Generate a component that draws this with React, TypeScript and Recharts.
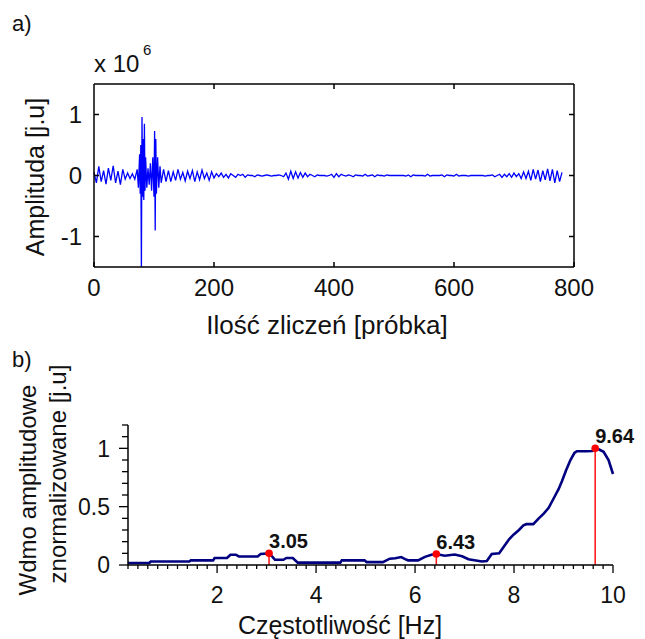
import {
  ComposedChart,
  Line,
  LineChart,
  ReferenceLine,
  Scatter,
  XAxis,
  YAxis,
} from "recharts";

// a) time signal, amplitude in units of 1e6
const SAMPLE_STEP = 4;
const leadAmp = [
  0.05, -0.12, 0.15, -0.1, 0.08, -0.14, 0.12, -0.08, 0.16, -0.12, 0.07, -0.15,
  0.1, -0.06, 0.04, -0.05, 0.03, -0.06,
];
const burstSample = [
  72, 74, 76, 77, 78, 79, 80, 81, 82, 83, 84, 85, 86, 88, 90, 92, 94, 96, 98,
  100, 101, 102, 103, 104, 106, 108, 110, 112, 116, 120,
];
const burstAmp = [
  0.1, -0.2, 0.35, -0.3, 0.5, -1.6, 0.96, -0.35, 0.6, -0.4, 0.85, -0.25, 0.3,
  -0.2, 0.12, -0.15, 0.2, -0.25, 0.3, -0.35, 0.73, -0.9, 0.6, -0.3, 0.3, -0.2,
  0.15, -0.12, 0.1, -0.1,
];
const tailStart = 124;
const tailAmp = [
  0.08, -0.1, 0.06, -0.08, 0.1, -0.06, 0.05, -0.09, 0.07, -0.05,
  0.08, -0.1, 0.06, -0.07, 0.09, -0.05, 0.04, -0.08, 0.06, -0.04,
  0.03, -0.02, 0.04, -0.03, 0.02, -0.04, 0.03, 0, -0.03, 0.02,
  0, 0.02, -0.03, 0.01, 0, 0, -0.02, 0.01, 0, -0.01,
  0, 0.01, 0, -0.01, 0, 0, 0.01, 0, -0.02, 0.04,
  -0.06, 0.07, -0.05, 0.06, -0.04, 0.05, -0.03, 0.04, -0.02, 0.02,
  0, -0.02, 0.01, 0, 0, 0, -0.01, 0, 0.02, -0.03,
  0.03, -0.02, 0.02, 0, -0.01, 0.01, 0, -0.02, 0.01, 0,
  0, -0.01, 0.02, -0.01, 0, 0.01, -0.02, 0.01, 0, 0,
  -0.01, 0.01, 0, 0, 0, 0, 0, 0, 0, -0.01,
  0.01, -0.02, 0.01, 0, 0, 0, 0, -0.01, 0.02, -0.01,
  0, 0, 0, 0, 0.01, -0.02, 0.01, 0, 0, -0.01,
  0.02, -0.01, 0, 0, 0, -0.01, 0, 0, 0, 0,
  0, 0, -0.01, 0, 0, 0.01, -0.02, 0, 0.02, -0.03,
  0.02, -0.02, 0.03, -0.03, 0.04, -0.02, 0.03, -0.05, 0.06, -0.05,
  0.07, -0.08, 0.1, -0.06, 0.09, -0.1, 0.08, -0.07, 0.11, -0.09,
  0.1, -0.12, 0.08, -0.1, 0.05,
];
const sampleTicks = [0, 200, 400, 600, 800];
const ampTicks = [-1, 0, 1];

// b) normalised spectrum
const freq = [
  0.2, 0.63, 0.66, 1.44, 1.47, 1.92, 1.95, 2.2, 2.27, 2.38, 2.44, 2.82, 2.88,
  3.05, 3.12, 3.17, 3.34, 3.4, 3.53, 3.63, 4.49, 4.52, 4.98, 5.02, 5.35, 5.49,
  5.6, 5.72, 5.8, 5.86, 6.06, 6.2, 6.33, 6.43, 6.6, 6.8, 6.95, 7.08, 7.35,
  7.45, 7.55, 7.7, 7.8, 7.9, 7.99, 8.1, 8.19, 8.25, 8.39, 8.5, 8.6, 8.7, 8.8,
  8.9, 8.97, 9.05, 9.14, 9.22, 9.27, 9.45, 9.58, 9.64, 9.72, 9.81, 9.91, 10,
];
const spectrum = [
  0.017, 0.017, 0.03, 0.03, 0.04, 0.04, 0.06, 0.06, 0.088, 0.088, 0.073, 0.073,
  0.095, 0.1, 0.07, 0.045, 0.045, 0.06, 0.06, 0.02, 0.02, 0.04, 0.04, 0.025,
  0.025, 0.054, 0.058, 0.068, 0.05, 0.04, 0.04, 0.07, 0.088, 0.094, 0.08, 0.09,
  0.075, 0.05, 0.03, 0.035, 0.095, 0.1, 0.16, 0.22, 0.26, 0.3, 0.34, 0.35,
  0.35, 0.4, 0.44, 0.49, 0.57, 0.65, 0.72, 0.81, 0.9, 0.96, 0.975, 0.975,
  0.977, 1.0, 0.99, 0.97, 0.9, 0.78,
];
const peakFreq = [3.05, 6.43, 9.64];
const peakAmp = [0.1, 0.094, 1.0];
const freqMajorTicks = [2, 4, 6, 8, 10];
const specTicks = [0, 0.1, 0.2, 0.3, 0.4, 0.5, 0.6, 0.7, 0.8, 0.9, 1, 1.1, 1.2];
const specMajorTicks = [0, 0.5, 1];

const signal = [
  ...leadAmp.map((v, i) => ({ s: i * SAMPLE_STEP, v })),
  ...burstSample.map((s, i) => ({ s, v: burstAmp[i] })),
  ...tailAmp.map((v, i) => ({ s: tailStart + i * SAMPLE_STEP, v })),
];
const spectrumData = freq.map((f, i) => ({ f, v: spectrum[i] }));
const peaks = peakFreq.map((f, i) => ({ f, v: peakAmp[i] }));

// minor ticks every 0.2 Hz along the frequency axis
const freqTicks: number[] = [];
for (let k = 1; k <= 50; k++) freqTicks.push(Math.round(k * 2) / 10);

const FONT = "'Liberation Sans', Arial, sans-serif";
const INK = "#111";

function SampleTick({ x, y, payload }: any) {
  return (
    <g>
      <line x1={x} x2={x} y1={y} y2={y - 5} stroke="#000" strokeWidth={1.5} />
      <text x={x} y={y + 29} textAnchor="middle" fontSize={24} fontFamily={FONT} fill={INK}>
        {payload.value}
      </text>
    </g>
  );
}

function TopInnerTick({ x, y }: any) {
  return <line x1={x} x2={x} y1={y} y2={y + 5} stroke="#000" strokeWidth={1.5} />;
}

function AmpTick({ x, y, payload }: any) {
  return (
    <g>
      <line x1={x} x2={x + 5} y1={y} y2={y} stroke="#000" strokeWidth={1.5} />
      <text x={x - 12} y={y} dy="0.36em" textAnchor="end" fontSize={24} fontFamily={FONT} fill={INK}>
        {payload.value}
      </text>
    </g>
  );
}

function RightInnerTick({ x, y }: any) {
  return <line x1={x} x2={x - 5} y1={y} y2={y} stroke="#000" strokeWidth={1.5} />;
}

function FreqTick({ x, y, payload }: any) {
  const major = freqMajorTicks.includes(payload.value);
  return (
    <g>
      <line x1={x} x2={x} y1={y} y2={y + (major ? 8 : 4)} stroke="#000" strokeWidth={1.3} />
      {major && (
        <text x={x} y={y + 38} textAnchor="middle" fontSize={23} fontFamily={FONT} fill={INK}>
          {payload.value}
        </text>
      )}
    </g>
  );
}

function SpecTick({ x, y, payload }: any) {
  const major = specMajorTicks.includes(payload.value);
  return (
    <g>
      <line x1={x} x2={x - (major ? 9 : 6)} y1={y} y2={y} stroke="#000" strokeWidth={1.3} />
      {major && (
        <text x={x - 18} y={y} dy="0.36em" textAnchor="end" fontSize={23} fontFamily={FONT} fill={INK}>
          {payload.value}
        </text>
      )}
    </g>
  );
}

function PeakMarker({ cx, cy, payload }: any) {
  return (
    <g>
      <circle cx={cx} cy={cy} r={3.8} fill="#ff0000" />
      <text x={cx} y={cy - 5} fontSize={20} fontWeight="bold" fontFamily={FONT} fill={INK}>
        {payload.f.toFixed(2)}
      </text>
    </g>
  );
}

export default function App() {
  return (
    <div style={{ position: "absolute", left: 0, top: 0, width: 645, height: 639, background: "#fff" }}>
      <div style={{ position: "absolute", left: 0, top: 0 }}>
        <LineChart width={645} height={340} data={signal} margin={{ top: 83, right: 70, bottom: 43, left: 64 }}>
          <XAxis
            dataKey="s"
            type="number"
            domain={[0, 800]}
            ticks={sampleTicks}
            interval={0}
            height={30}
            tickSize={0}
            tickMargin={0}
            tickLine={false}
            tick={<SampleTick />}
            axisLine={{ stroke: "#000", strokeWidth: 1.5 }}
          />
          <XAxis
            xAxisId="top"
            orientation="top"
            dataKey="s"
            type="number"
            domain={[0, 800]}
            ticks={[200, 400, 600]}
            interval={0}
            height={1}
            tickSize={0}
            tickMargin={0}
            tickLine={false}
            tick={<TopInnerTick />}
            axisLine={{ stroke: "#000", strokeWidth: 1.5 }}
          />
          <YAxis
            type="number"
            domain={[-1.5, 1.5]}
            allowDataOverflow
            ticks={ampTicks}
            interval={0}
            width={30}
            tickSize={0}
            tickMargin={0}
            tickLine={false}
            tick={<AmpTick />}
            axisLine={{ stroke: "#000", strokeWidth: 1.5 }}
          />
          <YAxis
            yAxisId="right"
            orientation="right"
            type="number"
            domain={[-1.5, 1.5]}
            allowDataOverflow
            ticks={ampTicks}
            interval={0}
            width={1}
            tickSize={0}
            tickMargin={0}
            tickLine={false}
            tick={<RightInnerTick />}
            axisLine={{ stroke: "#000", strokeWidth: 1.5 }}
          />
          <Line
            type="linear"
            dataKey="v"
            stroke="#0000ff"
            strokeWidth={1.3}
            dot={false}
            isAnimationActive={false}
          />
        </LineChart>
      </div>

      <div style={{ position: "absolute", left: 0, top: 340 }}>
        <ComposedChart width={645} height={299} margin={{ top: 85, right: 32, bottom: 44, left: 98 }}>
          <XAxis
            dataKey="f"
            type="number"
            domain={[0.2, 10]}
            ticks={freqTicks}
            interval={0}
            height={30}
            tickSize={0}
            tickMargin={0}
            tickLine={false}
            tick={<FreqTick />}
            axisLine={{ stroke: "#000", strokeWidth: 1.5 }}
          />
          <YAxis
            dataKey="v"
            type="number"
            domain={[0, 1.2]}
            ticks={specTicks}
            interval={0}
            width={30}
            tickSize={0}
            tickMargin={0}
            tickLine={false}
            tick={<SpecTick />}
            axisLine={{ stroke: "#000", strokeWidth: 1.5 }}
          />
          <Line
            data={spectrumData}
            type="linear"
            dataKey="v"
            stroke="#000080"
            strokeWidth={2.6}
            dot={false}
            isAnimationActive={false}
          />
          {peaks.map((p) => (
            <ReferenceLine
              key={p.f}
              segment={[
                { x: p.f, y: 0 },
                { x: p.f, y: p.v },
              ]}
              stroke="#ff2020"
              strokeWidth={1.6}
            />
          ))}
          <Scatter data={peaks} dataKey="v" shape={<PeakMarker />} isAnimationActive={false} />
        </ComposedChart>
      </div>

      <svg width={645} height={639} style={{ position: "absolute", left: 0, top: 0, pointerEvents: "none" }}>
        <g fontFamily={FONT} fill={INK}>
          <text x={12} y={31} fontSize={22}>a)</text>
          <text x={94} y={72} fontSize={24}>x 10</text>
          <text x={143} y={55} fontSize={15}>6</text>
          <text
            x={35}
            y={177}
            fontSize={25}
            textAnchor="middle"
            dominantBaseline="central"
            transform="rotate(-90 35 177)"
          >
            Amplituda [j.u]
          </text>
          <text x={327} y={334} fontSize={26} textAnchor="middle">
            Ilość zliczeń [próbka]
          </text>

          <text x={12} y={367} fontSize={22}>b)</text>
          <text
            x={27}
            y={490}
            fontSize={24}
            textAnchor="middle"
            dominantBaseline="central"
            transform="rotate(-90 27 490)"
          >
            Wdmo amplitudowe
          </text>
          <text
            x={57}
            y={474}
            fontSize={24}
            textAnchor="middle"
            dominantBaseline="central"
            transform="rotate(-90 57 474)"
          >
            znormalizowane [j.u]
          </text>
          <text x={340} y={634} fontSize={25} textAnchor="middle">
            Częstotliwość [Hz]
          </text>
        </g>
      </svg>
    </div>
  );
}
